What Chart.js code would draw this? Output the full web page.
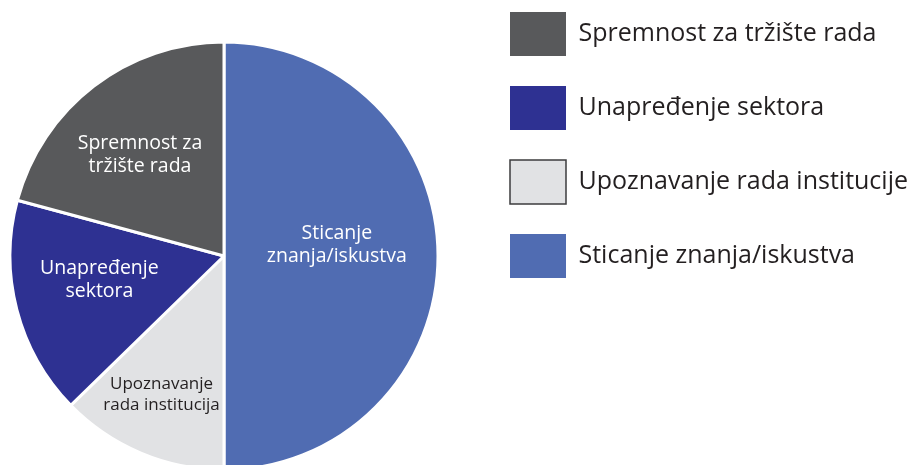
<!DOCTYPE html>
<html>
<head>
<meta charset="utf-8">
<script src="https://cdn.jsdelivr.net/npm/chart.js@4"></script>
<style>
  html, body { margin: 0; background: #fff; overflow: hidden; }
  .wrap { position: relative; width: 917px; height: 465px; overflow: hidden; }
  /* platno je veće, a pomak ga vraća tako da se dno kruga odsiječe kao u originalu */
  #pieChart { position: absolute; left: -32px; top: -18px; display: block; }
</style>
</head>
<body>
<div class="wrap">
  <canvas id="pieChart" width="949" height="548"></canvas>
</div>
<script>
// redoslijed od vrha, u smjeru kazaljke na satu
const categories = ['Sticanje znanja/iskustva', 'Upoznavanje rada institucije', 'Unapređenje sektora', 'Spremnost za tržište rada'];
const sliceLabels = [['Sticanje', 'znanja/iskustva'], ['Upoznavanje', 'rada institucija'], ['Unapređenje', 'sektora'], ['Spremnost za', 'tržište rada']];
const shares = [50, 12.7, 16.5, 20.8];

const colors = ['#506CB2', '#E1E2E4', '#2E3192', '#58595B'];

// natpisi unutar isječaka
const sliceLabelPlugin = {
  id: 'sliceLabels',
  afterDatasetsDraw(chart, args, opts) {
    const ctx = chart.ctx;
    chart.getDatasetMeta(0).data.forEach((arc, i) => {
      const { x, y, startAngle, endAngle, outerRadius } = arc.getProps(['x', 'y', 'startAngle', 'endAngle', 'outerRadius'], true);
      const angle = (startAngle + endAngle) / 2 + opts.angleShift[i] * Math.PI / 180;
      const r = outerRadius * opts.radius[i];
      const cx = x + Math.cos(angle) * r;
      const cy = y + Math.sin(angle) * r;
      const size = opts.fontSize[i];
      const lines = sliceLabels[i];
      const lh = size * 1.2;
      ctx.save();
      ctx.font = size + 'px "Open Sans"';
      ctx.fillStyle = opts.color[i];
      ctx.textAlign = 'center';
      ctx.textBaseline = 'middle';
      lines.forEach((line, j) => {
        ctx.fillText(line, cx, cy + (j - (lines.length - 1) / 2) * lh);
      });
      ctx.restore();
    });
  }
};

const ctx = document.getElementById('pieChart').getContext('2d');

new Chart(ctx, {
  type: 'pie',
  data: {
    labels: categories,
    datasets: [{
      data: shares,
      backgroundColor: colors,
      borderColor: '#fff',
      borderWidth: 3,
      radius: 214,
    }],
  },
  options: {
    responsive: false,
    animation: false,
    plugins: {
      tooltip: { enabled: false },
      legend: {
        position: 'right',
        align: 'start',
        reverse: true,
        maxWidth: 437,
        labels: {
          boxWidth: 56,
          boxHeight: 44,
          padding: 30,
          color: '#231F20',
          font: { family: 'Open Sans', size: 25 },
          generateLabels(chart) {
            const items = Chart.overrides.doughnut.plugins.legend.labels.generateLabels(chart);
            items.forEach((item) => {
              // samo svijetlo siva kutija ima tamni okvir
              item.lineWidth = item.index === 1 ? 1.5 : 0;
              item.strokeStyle = '#3C3C3E';
            });
            return items;
          },
        },
      },
      sliceLabels: {
        radius: [0.53, 0.71, 0.593, 0.614],
        angleShift: [-5.6, 1.4, 3.7, -2.3],
        fontSize: [19.5, 17, 19.5, 19.5],
        color: ['#fff', '#231F20', '#fff', '#fff'],
      },
    },
  },
  plugins: [sliceLabelPlugin],
});
</script>
</body>
</html>
